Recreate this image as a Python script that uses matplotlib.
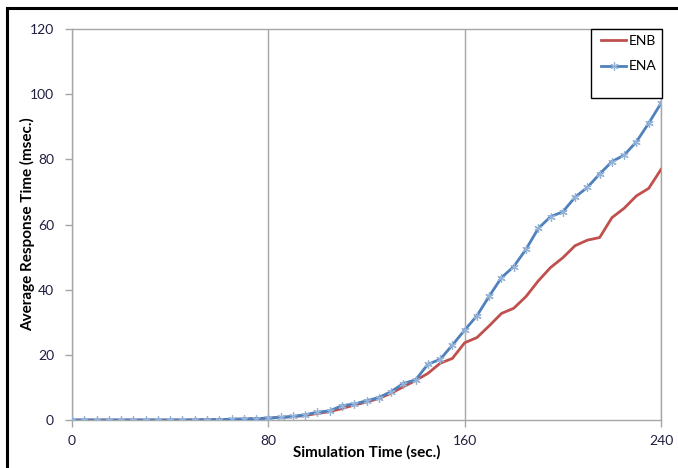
import numpy as np
import matplotlib.pyplot as plt
from matplotlib.patches import Rectangle

# tiempo de simulacion cada 5 seg.
tiempo = list(range(0, 245, 5))

# ENB (linea roja)
enb = [0, 0, 0, 0, 0, 0, 0, 0, 0, 0,
       0.05, 0.1, 0.15, 0.2, 0.3, 0.4, 0.6, 0.8, 1.0, 1.4,
       2.0, 2.6, 3.5, 4.6, 5.5, 6.6, 8.2, 10.2, 12.1, 14.3,
       17.4, 18.9, 23.7, 25.3, 28.9, 32.7, 34.3, 37.9, 42.7, 46.8,
       49.8, 53.5, 55.2, 56.0, 62.1, 65.0, 68.8, 71.1, 76.9]

# ENA (linea azul con marcadores)
ena = [0, 0, 0, 0, 0, 0, 0, 0, 0, 0,
       0.05, 0.1, 0.15, 0.2, 0.3, 0.4, 0.6, 0.8, 1.1, 1.6,
       2.4, 2.8, 4.4, 4.9, 5.9, 6.9, 8.7, 11.2, 12.3, 17.1,
       18.6, 23.0, 27.6, 32.0, 38.0, 43.7, 47.1, 52.4, 58.8, 62.4,
       63.9, 68.4, 71.4, 75.5, 79.3, 81.3, 85.4, 91.1, 97.2]

xticks = [0, 80, 160, 240]
yticks = [0, 20, 40, 60, 80, 100, 120]

plt.rcParams['font.family'] = ['Lato', 'DejaVu Sans']

W, H = 678, 468
fig = plt.figure(figsize=(W / 100, H / 100), dpi=100)
ax = fig.add_axes([72 / W, 1 - 420 / H, 589 / W, 391 / H])

# marco negro del grafico
fig.patches.append(Rectangle((7 / W, -0.1), 1.2, 1 - 8 / H + 0.1,
                             transform=fig.transFigure, fill=False,
                             edgecolor='black', linewidth=2.2))

ax.plot(tiempo, enb, color='#C0504D', linewidth=2, label='ENB', zorder=3)
ax.plot(tiempo, ena, color='#4F81BD', linewidth=2, marker=(6, 2, 0),
        markersize=6, markerfacecolor='#95B3D7', markeredgecolor='#95B3D7',
        markeredgewidth=0.9, label='ENA', zorder=4)

ax.set_xlim(0, 240)
ax.set_ylim(0, 120)
ax.set_xticks(xticks)
ax.set_yticks(yticks)
ax.grid(axis='x', color='#A6A6A6', linewidth=1)
ax.set_axisbelow(True)

for s in ax.spines.values():
    s.set_color('#A6A6A6')
    s.set_linewidth(1)

ax.tick_params(axis='both', colors='#A6A6A6', labelcolor='#1F1F3F',
               labelsize=10, length=5, width=1, direction='out')
ax.tick_params(axis='y', pad=8)
ax.tick_params(axis='x', pad=6)

xl = ax.set_xlabel('Simulation Time (sec.)', fontsize=11, fontweight='bold')
xl.set_va('center')
ax.xaxis.set_label_coords(0.5, (420 - 452) / 391)
yl = ax.set_ylabel('Average Response Time (msec.)', fontsize=11, fontweight='bold')
yl.set_va('center')
ax.yaxis.set_label_coords((28 - 72) / 589, 0.5)

# caja de la leyenda aparte (como en excel)
caja = Rectangle((591 / W, 1 - 98 / H), 71 / W, 69 / H,
                 transform=fig.transFigure, fill=True, facecolor='white',
                 edgecolor='black', linewidth=1, zorder=5, clip_on=False)
ax.add_patch(caja)

leg = ax.legend(loc='upper right', fontsize=10, frameon=False,
                bbox_to_anchor=((661 - 72) / 589, (420 - 31) / 391),
                borderaxespad=0, handlelength=1.8, handletextpad=0.2,
                labelspacing=0.95, borderpad=0.3)
leg.set_zorder(6)

fig.savefig('out.png', dpi=100)
